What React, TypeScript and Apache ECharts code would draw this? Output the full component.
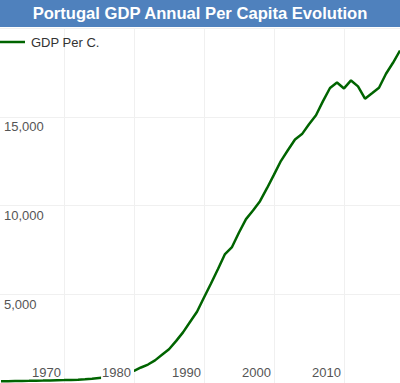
import React, { useEffect, useRef } from "react";
import * as echarts from "echarts";

const years: number[] = [
  1960, 1961, 1962, 1963, 1964, 1965, 1966, 1967, 1968, 1969,
  1970, 1971, 1972, 1973, 1974, 1975, 1976, 1977, 1978, 1979,
  1980, 1981, 1982, 1983, 1984, 1985, 1986, 1987, 1988, 1989,
  1990, 1991, 1992, 1993, 1994, 1995, 1996, 1997, 1998, 1999,
  2000, 2001, 2002, 2003, 2004, 2005, 2006, 2007, 2008, 2009,
  2010, 2011, 2012, 2013, 2014, 2015, 2016, 2017,
];

const gdpPerCapita: number[] = [
  100, 105, 110, 115, 120, 128, 135, 145, 155, 165,
  175, 190, 210, 240, 280, 320, 380, 470, 570, 690,
  875, 1040, 1275, 1590, 1900, 2360, 2855, 3440, 4020, 4820,
  5610, 6430, 7270, 7665, 8485, 9240, 9720, 10250, 10980, 11745,
  12525, 13135, 13725, 14030, 14580, 15090, 15890, 16630, 16940, 16605,
  17055, 16720, 16025, 16330, 16645, 17430, 18050, 18740,
];

const yTicks: number[] = [5000, 10000, 15000];

const TITLE = "Portugal GDP Annual Per Capita Evolution";
const SERIES_NAME = "GDP Per C.";
const FONT = "'Liberation Sans', Arial, sans-serif";

export default function App() {
  const ref = useRef<HTMLDivElement>(null);
  useEffect(() => {
    if (!ref.current) return;
    const chart = echarts.init(ref.current, null, { renderer: "svg" });
    // points are dated at the end of each year
    const points = years.map((y, i) => [y + 1, gdpPerCapita[i]]);
    const xMin = 1961 - 1 / 7;
    const xMax = 2018;
    chart.setOption({
      animation: false,
      backgroundColor: "#ffffff",
      graphic: [
        {
          type: "rect",
          z: 0,
          shape: { x: 0, y: 0, width: 400, height: 27 },
          style: { fill: "#4f81bd" },
        },
      ],
      title: {
        text: TITLE,
        left: "center",
        top: 3.5,
        padding: 0,
        z: 10,
        textStyle: {
          color: "#ffffff",
          fontFamily: FONT,
          fontWeight: "bold",
          fontSize: 16.6,
          lineHeight: 19,
        },
      },
      legend: {
        left: 0,
        top: 35,
        padding: 0,
        itemWidth: 25,
        itemHeight: 2.5,
        itemGap: 10,
        icon: "rect",
        textStyle: {
          color: "#333333",
          fontFamily: FONT,
          fontSize: 13,
          lineHeight: 14,
          padding: [0, 0, 0, 1],
        },
        data: [SERIES_NAME],
      },
      grid: { left: 0, right: 0, top: 28.2, height: 356.4, containLabel: false },
      xAxis: [
        {
          type: "value",
          min: xMin,
          max: xMax,
          axisLine: { show: false },
          axisTick: { show: false },
          axisLabel: { show: false },
          splitLine: {
            show: true,
            showMinLine: false,
            showMaxLine: false,
            lineStyle: { color: "#f0f0f0", width: 1 },
          },
        },
        {
          type: "value",
          position: "bottom",
          min: xMin,
          max: xMax,
          z: 10,
          axisLine: { show: false },
          axisTick: { show: false },
          splitLine: { show: false },
          axisLabel: {
            show: true,
            inside: true,
            margin: 4,
            showMinLabel: false,
            showMaxLabel: false,
            align: "right",
            verticalAlign: "bottom",
            color: "#555555",
            fontFamily: FONT,
            fontSize: 13,
            lineHeight: 13,
            backgroundColor: "#ffffff",
            padding: [0, 3, 0, 1],
            formatter: (v: number) => String(Math.round(v)),
          },
        },
      ],
      yAxis: {
        type: "value",
        min: 0,
        max: 20000,
        interval: 5000,
        axisLine: { show: false },
        axisTick: { show: false },
        splitLine: { show: true, lineStyle: { color: "#f0f0f0", width: 1 } },
        axisLabel: {
          inside: true,
          margin: 4,
          align: "left",
          verticalAlign: "top",
          lineHeight: 20,
          color: "#555555",
          fontFamily: FONT,
          fontSize: 13,
          formatter: (v: number) =>
            yTicks.indexOf(v) >= 0 ? v.toLocaleString("en-US") : "",
        },
      },
      series: [
        {
          name: SERIES_NAME,
          type: "line",
          xAxisIndex: 0,
          data: points,
          showSymbol: false,
          symbol: "none",
          z: 2,
          lineStyle: { color: "#006400", width: 2.5 },
          itemStyle: { color: "#006400" },
        },
      ],
    });
    return () => chart.dispose();
  }, []);
  return (
    <div
      ref={ref}
      style={{ position: "fixed", left: 0, top: 0, width: 400, height: 383 }}
    />
  );
}
